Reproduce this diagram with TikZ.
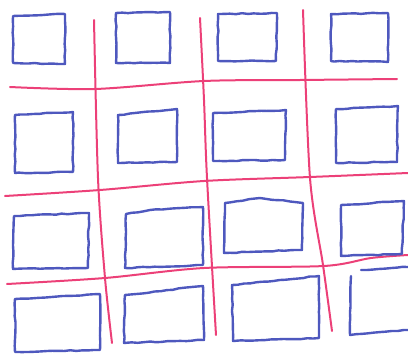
\documentclass[tikz,border=0pt]{standalone}
\usepackage{tikz}
\usetikzlibrary{decorations.pathmorphing}
\definecolor{penblue}{RGB}{78,88,190}
\definecolor{penpink}{RGB}{236,64,120}

\begin{document}
\begin{tikzpicture}[x=1pt,y=-1pt,
  box/.style={penblue,line width=2.4pt,line join=round,line cap=round,
    decorate,decoration={random steps,segment length=6pt,amplitude=0.5pt}},
  rule/.style={penpink,line width=2pt,line cap=round}]
\pgfmathsetseed{11}
\useasboundingbox (0,0) rectangle (408,356);
% pink grid lines
\draw[rule] plot[smooth] coordinates {(10,87) (95,89) (204,81) (300,80) (397,79)};
\draw[rule] plot[smooth] coordinates {(5,196) (100,190) (204,181) (310,177) (408,173)};
\draw[rule] plot[smooth] coordinates {(7,284) (105,278) (204,268) (324,266) (371,258) (408,255)};
\draw[rule] plot[smooth] coordinates {(94,20) (98,178) (105,278) (112,343)};
\draw[rule] plot[smooth] coordinates {(200,18) (204,100) (207,178) (216,335)};
\draw[rule] plot[smooth] coordinates {(303,10) (310,178) (323,265) (332,331)};
% row 1
\draw[box] (13,16) -- (65,14) -- (65,64) -- (13,63) -- cycle;
\draw[box] (116,13) -- (170,12) -- (170,63) -- (116,63) -- cycle;
\draw[box] (218,14) -- (277,13) -- (276,61) -- (218,61) -- cycle;
\draw[box] (331,14) -- (388,13) -- (388,62) -- (331,61) -- cycle;
% row 2
\draw[box] (15,115) -- (73,112) -- (73,172) -- (15,173) -- cycle;
\draw[box] (118,115) -- (177,109) -- (177,162) -- (118,163) -- cycle;
\draw[box] (213,113) -- (286,110) -- (285,160) -- (213,161) -- cycle;
\draw[box] (336,109) -- (398,106) -- (397,162) -- (336,163) -- cycle;
% row 3
\draw[box] (14,216) -- (89,213) -- (88,268) -- (13,269) -- cycle;
\draw[box] (126,214) -- (150,210) -- (203,207) -- (203,265) -- (125,268) -- cycle;
\draw[box] (225,203) -- (260,198) -- (303,203) -- (302,250) -- (224,253) -- cycle;
\draw[box] (341,205) -- (404,201) -- (402,254) -- (341,256) -- cycle;
% row 4
\draw[box] (15,299) -- (100,294) -- (100,350) -- (15,352) -- cycle;
\draw[box] (125,295) -- (203,286) -- (204,340) -- (124,343) -- cycle;
\draw[box] (232,285) -- (319,276) -- (319,338) -- (233,341) -- cycle;
\draw[box] (351,276) -- (350,335) -- (408,330);
\draw[box] (361,270) -- (408,267);
\end{tikzpicture}
\end{document}
